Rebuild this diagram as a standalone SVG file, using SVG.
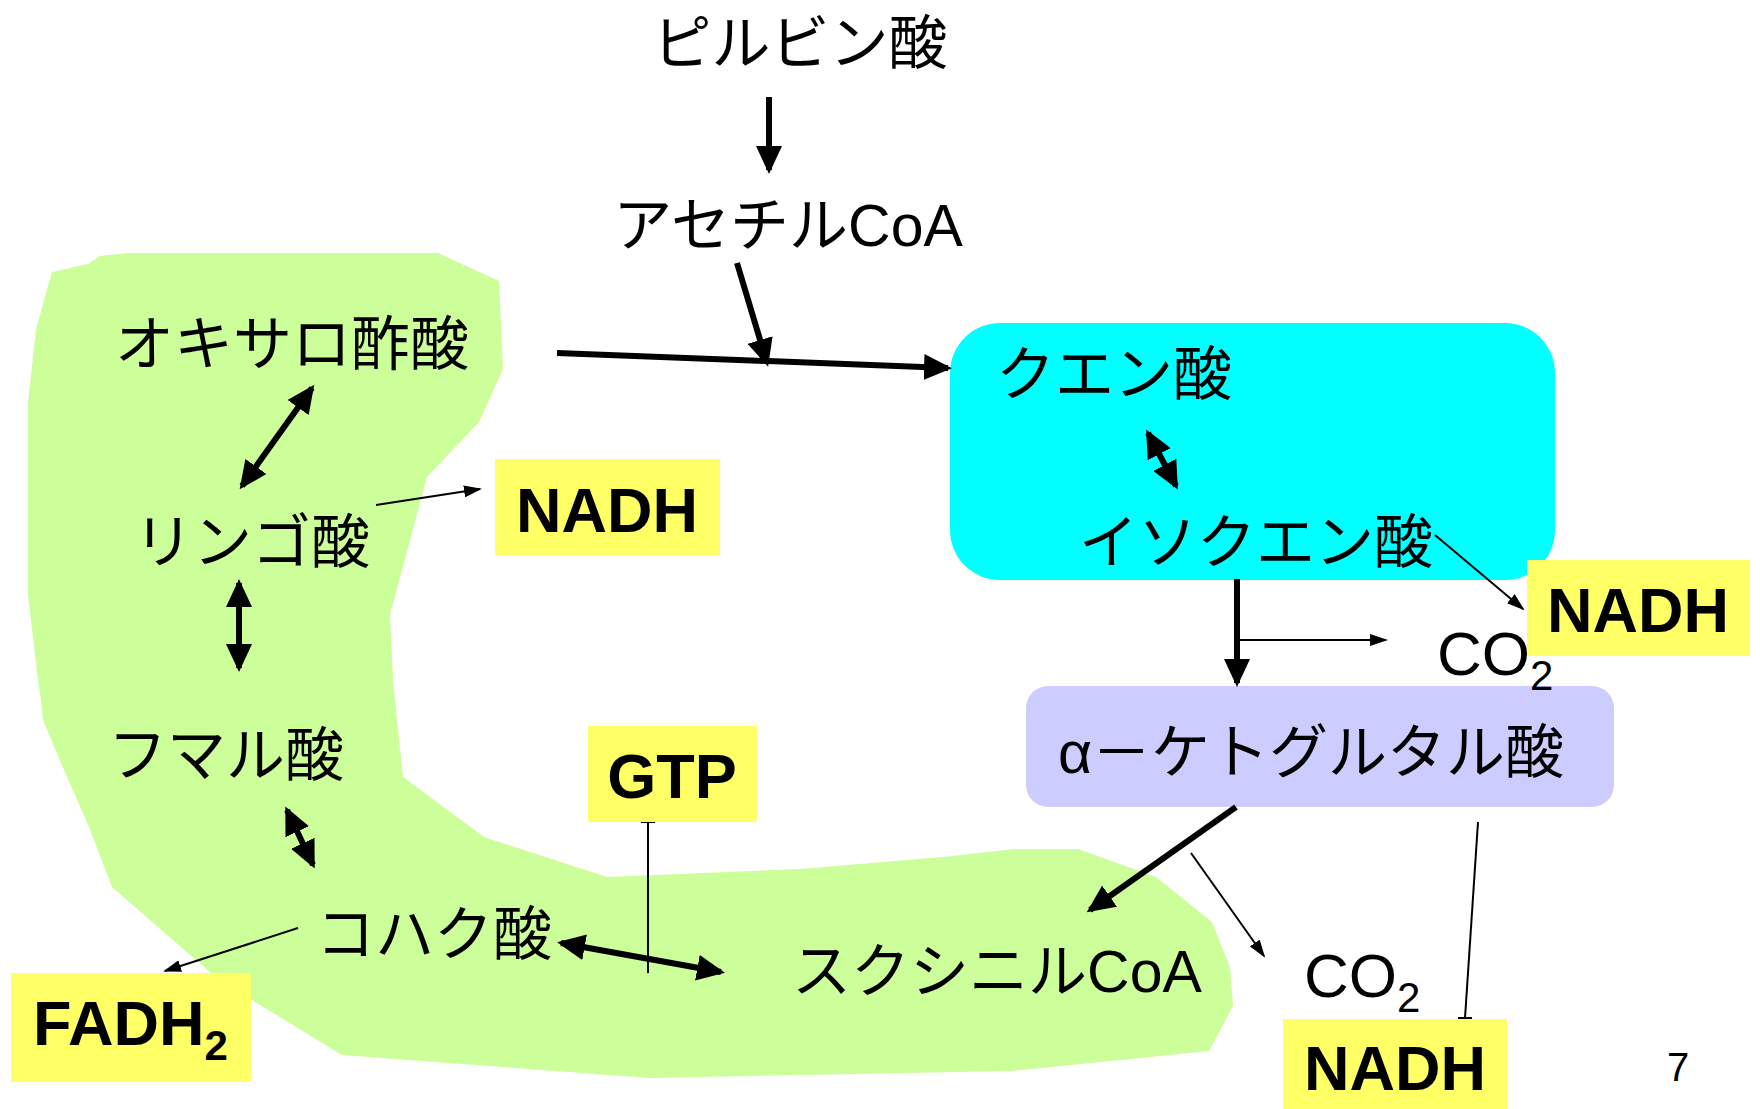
<svg xmlns="http://www.w3.org/2000/svg" width="1760" height="1109" viewBox="0 0 1760 1109">
<style>
.jp{font-family:"Liberation Sans","Noto Sans CJK JP",sans-serif;font-size:59px;fill:#000;text-anchor:middle}
.bd{font-family:"Liberation Sans","Noto Sans CJK JP",sans-serif;font-size:63px;font-weight:bold;fill:#000;text-anchor:middle}
.rg{font-family:"Liberation Sans",sans-serif;font-size:62px;fill:#000}
.yb{fill:#FFFF66}
.thick{stroke:#000;stroke-width:6;fill:none}
.thin{stroke:#000;stroke-width:2;fill:none}
</style>
<defs>
<marker id="ah" markerUnits="userSpaceOnUse" markerWidth="28" markerHeight="26" refX="24" refY="13" orient="auto-start-reverse"><path d="M0,0 L28,13 L0,26 z" fill="#000"/></marker>
<marker id="as" markerUnits="userSpaceOnUse" markerWidth="18" markerHeight="12" refX="16" refY="6" orient="auto-start-reverse"><path d="M0,0 L18,6 L0,12 z" fill="#000"/></marker>
</defs>
<rect width="1760" height="1109" fill="#fff"/>
<g id="cycle-area">
<polygon fill="#CCFF99" points="52,272 88,264 100,256 128,253 438,253 499,281 503,369 479,422 427,477 390,615 393,680 395,700 403,777 484,837 607,877 800,869 943,857 1014,849 1078,849 1156,877 1212,922 1230,967 1233,1006 1209,1051 1011,1071 800,1075 650,1078 342,1055 219,980 112,887 89,827 61,763 43,720 41,700 38,680 28,595 28,403 36,329"/>
</g>
<g id="citrate-box"><rect x="950" y="323" width="605" height="257" rx="50" ry="50" fill="#00FFFF"/></g>
<g id="akg-box"><rect x="1026" y="686" width="588" height="121" rx="22" ry="22" fill="#CCCCFF"/></g>
<g id="connectors">
<line class="thick" x1="769" y1="97" x2="769" y2="170" marker-end="url(#ah)"/>
<line class="thick" x1="557" y1="353" x2="948" y2="368" marker-end="url(#ah)"/>
<line class="thick" x1="737" y1="263" x2="767" y2="363" marker-end="url(#ah)"/>
<line class="thick" x1="312" y1="388" x2="242" y2="486" marker-start="url(#ah)" marker-end="url(#ah)"/>
<line class="thick" x1="239" y1="583" x2="239" y2="668" marker-start="url(#ah)" marker-end="url(#ah)"/>
<line class="thick" x1="287" y1="810" x2="313" y2="865" marker-start="url(#ah)" marker-end="url(#ah)"/>
<line class="thick" x1="561" y1="943" x2="721" y2="972" marker-start="url(#ah)" marker-end="url(#ah)"/>
<line class="thick" x1="1148" y1="433" x2="1176" y2="486" marker-start="url(#ah)" marker-end="url(#ah)"/>
<line class="thick" x1="1237" y1="579" x2="1237" y2="683" marker-end="url(#ah)"/>
<line class="thick" x1="1236" y1="807" x2="1090" y2="910" marker-end="url(#ah)"/>
<line class="thin" x1="376" y1="505" x2="480" y2="489" marker-end="url(#as)"/>
<line class="thin" x1="298" y1="928" x2="165" y2="971" marker-end="url(#as)"/>
<line class="thin" x1="1435" y1="535" x2="1523" y2="609" marker-end="url(#as)"/>
<line class="thin" x1="1239" y1="640" x2="1386" y2="640" marker-end="url(#as)"/>
<line class="thin" x1="1191" y1="853" x2="1264" y2="956" marker-end="url(#as)"/>
<line class="thin" x1="648" y1="822" x2="648" y2="973"/>
<line class="thin" x1="641" y1="822" x2="655" y2="822"/>
<line class="thin" x1="1478" y1="822" x2="1465" y2="1018"/>
<line class="thin" x1="1458" y1="1018" x2="1472" y2="1018"/>
</g>
<g id="pyruvate"><text class="jp" x="800" y="64">ピルビン酸</text></g>
<g id="acetylcoa"><text class="jp" x="788" y="246">アセチルCoA</text></g>
<g id="oxaloacetate"><text class="jp" x="292" y="365">オキサロ酢酸</text></g>
<g id="malate"><text class="jp" x="252" y="563">リンゴ酸</text></g>
<g id="fumarate"><text class="jp" x="226" y="776">フマル酸</text></g>
<g id="succinate"><text class="jp" x="434" y="955">コハク酸</text></g>
<g id="succinylcoa"><text class="jp" x="997" y="992">スクシニルCoA</text></g>
<g id="citrate"><text class="jp" x="1114" y="395">クエン酸</text></g>
<g id="isocitrate"><text class="jp" x="1256" y="563">イソクエン酸</text></g>
<g id="akg"><text class="jp" x="1311" y="773">α－ケトグルタル酸</text></g>
<g id="nadh1"><rect class="yb" x="495" y="459" width="225" height="96"/><text class="bd" x="607" y="532">NADH</text></g>
<g id="nadh2"><rect class="yb" x="1527" y="560" width="223" height="96"/><text class="bd" x="1638" y="632">NADH</text></g>
<g id="co2a"><text class="rg" x="1437" y="675">CO<tspan font-size="42" dy="15">2</tspan></text></g>
<g id="gtp"><rect class="yb" x="588" y="726" width="169" height="96"/><text class="bd" x="672" y="798">GTP</text></g>
<g id="fadh2"><rect class="yb" x="11" y="973" width="240" height="109"/><text class="bd" x="33" y="1045" style="text-anchor:start">FADH<tspan font-size="42" dy="15">2</tspan></text></g>
<g id="co2b"><text class="rg" x="1304" y="997">CO<tspan font-size="42" dy="15">2</tspan></text></g>
<g id="nadh3"><rect class="yb" x="1283" y="1019" width="224" height="90"/><text class="bd" x="1395" y="1090">NADH</text></g>
<g id="pagenum"><text x="1678" y="1081" style="font-family:'Liberation Sans',sans-serif;font-size:40px;text-anchor:middle">7</text></g>
</svg>
